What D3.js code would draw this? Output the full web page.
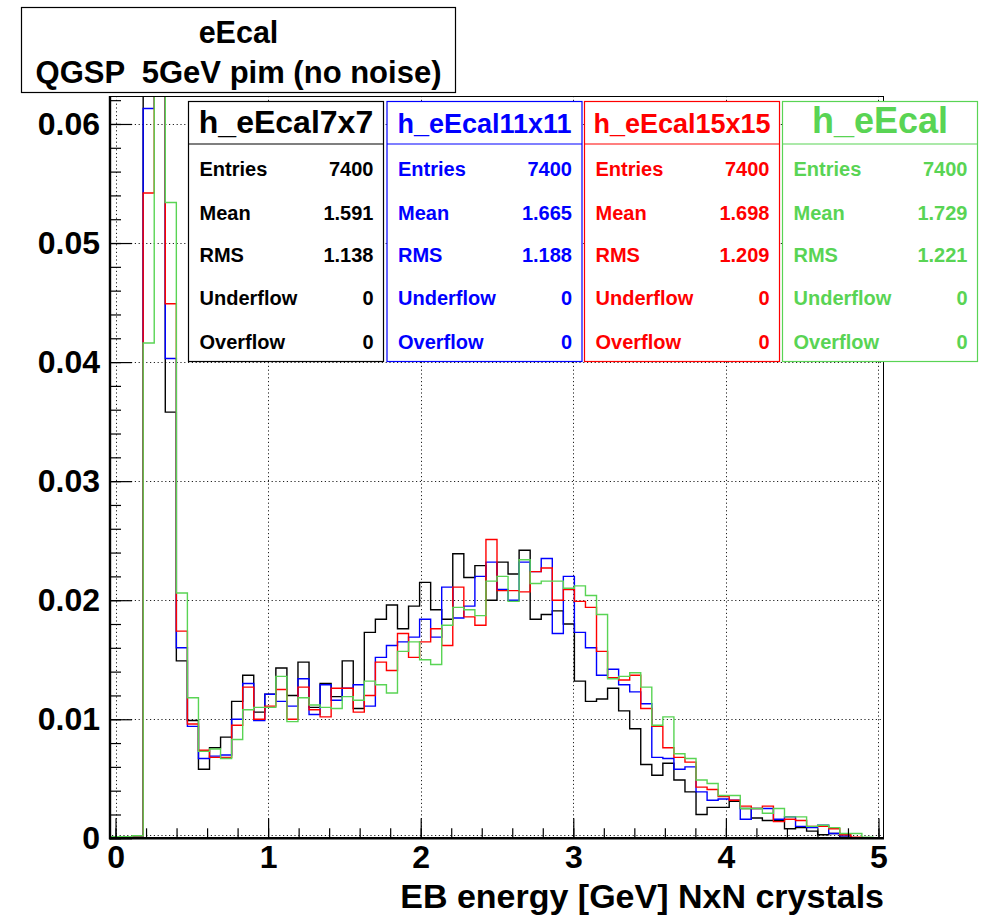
<!DOCTYPE html>
<html>
<head>
<meta charset="utf-8">
<script src="https://cdnjs.cloudflare.com/ajax/libs/d3/7.8.5/d3.min.js"></script>
<style>
  html, body { margin: 0; padding: 0; background: #fff; }
  svg { display: block; }
  text { font-family: "Liberation Sans", Arial, Helvetica, sans-serif; font-weight: bold; }
</style>
</head>
<body>
<svg id="chart" width="989" height="919"></svg>
<script>
// ---------------- data ----------------
const xMin = -0.0362, xMax = 5.0362, nBins = 70;
const yMax = 0.06235;
const xTickValues = [0, 1, 2, 3, 4, 5];
const yTickValues = [0, 0.01, 0.02, 0.03, 0.04, 0.05, 0.06];
const yTickLabels = ["0", "0.01", "0.02", "0.03", "0.04", "0.05", "0.06"];

const h7x7 = [0.0001,0.0001,0.0002,0.0700,0.0800,0.0358,0.0149,0.0099,0.0058,0.0076,
  0.0085,0.0115,0.0137,0.0106,0.0121,0.0143,0.0120,0.0148,0.0110,0.0130,
  0.0119,0.0149,0.0109,0.0173,0.0184,0.0196,0.0176,0.0195,0.0215,0.0192,
  0.0184,0.0239,0.0219,0.0229,0.0200,0.0232,0.0222,0.0242,0.0184,0.0188,
  0.0191,0.0180,0.0132,0.0115,0.0117,0.0126,0.0107,0.0092,0.0062,0.0053,
  0.0063,0.0049,0.0039,0.0020,0.0026,0.0026,0.0031,0.0025,0.0017,0.0015,
  0.0015,0.0008,0.0009,0.0006,0.0003,0.0004,0.0001,0.00005,0.00002,0];
const h11x11 = [0.0001,0.0001,0.0002,0.0613,0.0750,0.0403,0.0160,0.0094,0.0067,0.0069,
  0.0070,0.0100,0.0130,0.0099,0.0121,0.0115,0.0111,0.0134,0.0104,0.0129,
  0.0116,0.0126,0.0129,0.0111,0.0152,0.0162,0.0165,0.0169,0.0184,0.0169,
  0.0211,0.0185,0.0195,0.0220,0.0232,0.0209,0.0200,0.0232,0.0224,0.0235,
  0.0172,0.0220,0.0173,0.0160,0.0137,0.0142,0.0129,0.0123,0.0113,0.0068,
  0.0067,0.0058,0.0060,0.0039,0.0032,0.0033,0.0032,0.0016,0.0025,0.0025,
  0.0016,0.0018,0.0010,0.0009,0.0011,0.0004,0.0002,0.00005,0.00002,0];
const h15x15 = [0.0001,0.0001,0.0002,0.0542,0.0720,0.0449,0.0174,0.0096,0.0074,0.0068,
  0.0068,0.0095,0.0127,0.0100,0.0111,0.0125,0.0100,0.0127,0.0108,0.0102,
  0.0126,0.0126,0.0106,0.0120,0.0148,0.0141,0.0172,0.0152,0.0165,0.0176,
  0.0162,0.0211,0.0186,0.0179,0.0251,0.0208,0.0208,0.0207,0.0224,0.0227,
  0.0200,0.0209,0.0199,0.0194,0.0157,0.0135,0.0133,0.0137,0.0109,0.0094,
  0.0076,0.0068,0.0064,0.0043,0.0041,0.0035,0.0032,0.0027,0.0025,0.0027,
  0.0014,0.0016,0.0015,0.0010,0.0010,0.0008,0.0003,0.0001,0.00002,0];
const hFull = [0.00013,0.00013,0.00022,0.0416,0.0680,0.0534,0.0206,0.0118,0.0073,0.0075,
  0.0067,0.0083,0.0108,0.0110,0.0110,0.0136,0.0098,0.0118,0.0112,0.0110,
  0.0109,0.0119,0.0116,0.0132,0.0129,0.0122,0.0157,0.0165,0.0150,0.0146,
  0.0179,0.0194,0.0192,0.0187,0.0216,0.0220,0.0199,0.0234,0.0214,0.0216,
  0.0216,0.0210,0.0212,0.0204,0.0188,0.0134,0.0136,0.0139,0.0127,0.0095,
  0.0102,0.0071,0.0067,0.0049,0.0046,0.0036,0.0036,0.0025,0.0025,0.0021,
  0.0025,0.0018,0.0018,0.0010,0.0011,0.0009,0.0004,0.0004,0.0001,0.00005];

const seriesNames = ["h_eEcal7x7", "h_eEcal11x11", "h_eEcal15x15", "h_eEcal"];
const seriesValues = [h7x7, h11x11, h15x15, hFull];
const seriesColors = ["#000000", "#0000ff", "#ff0000", "#59d454"];
const statLabels = ["Entries", "Mean", "RMS", "Underflow", "Overflow"];
const statEntries = ["7400", "7400", "7400", "7400"];
const statMeans = ["1.591", "1.665", "1.698", "1.729"];
const statRMS = ["1.138", "1.188", "1.209", "1.221"];
const statUnder = ["0", "0", "0", "0"];
const statOver = ["0", "0", "0", "0"];

const titleLines = ["eEcal", "QGSP  5GeV pim (no noise)"];
const xAxisTitle = "EB energy [GeV] NxN crystals";

// ---------------- layout ----------------
const frame = { left: 110, right: 884, top: 96, bottom: 838.3 };
const svg = d3.select("#chart");

const x = d3.scaleLinear().domain([xMin, xMax]).range([frame.left, frame.right]);
const y = d3.scaleLinear().domain([0, yMax]).range([frame.bottom, frame.top]);

svg.append("rect").attr("x", 0).attr("y", 0).attr("width", 989).attr("height", 919).attr("fill", "#fff");

// grid
const grid = svg.append("g").attr("stroke", "#222").attr("stroke-width", 1).attr("stroke-dasharray", "1.2,2.6");
grid.selectAll("line.gx").data(xTickValues).join("line").attr("class", "gx")
  .attr("x1", d => Math.round(x(d)) + 0.5).attr("x2", d => Math.round(x(d)) + 0.5)
  .attr("y1", frame.top).attr("y2", frame.bottom - 2);
grid.selectAll("line.gy").data(yTickValues).join("line").attr("class", "gy")
  .attr("y1", d => d > 0 ? Math.round(y(d)) + 0.5 : Math.round(y(d)) - 2.5)
  .attr("y2", d => d > 0 ? Math.round(y(d)) + 0.5 : Math.round(y(d)) - 2.5)
  .attr("x1", frame.left + 2).attr("x2", frame.right);

// histograms
svg.append("clipPath").attr("id", "clipFrame").append("rect")
  .attr("x", frame.left).attr("y", frame.top).attr("width", frame.right - frame.left).attr("height", frame.bottom - frame.top);
const binW = (xMax - xMin) / nBins;
const line = d3.line().x(d => x(d[0])).y(d => y(d[1])).curve(d3.curveStepAfter);
const hg = svg.append("g").attr("clip-path", "url(#clipFrame)");
seriesValues.forEach((vals, si) => {
  const pts = vals.map((v, i) => [xMin + i * binW, v]);
  pts.push([xMax, vals[vals.length - 1]]);
  hg.append("path").attr("d", line(pts)).attr("fill", "none")
    .attr("stroke", seriesColors[si]).attr("stroke-width", 1.4);
});

// axes
const minorY = d3.range(0, yMax, 0.002);
const minorX = d3.range(0, 5.0001, 0.2);
const yAxisMinor = d3.axisLeft(y).tickValues(minorY).tickSize(-11).tickFormat("");
const yAxisMajor = d3.axisLeft(y).tickValues(yTickValues).tickSize(-22).tickPadding(10)
  .tickFormat((d, i) => yTickLabels[i]);
const xAxisMinor = d3.axisBottom(x).tickValues(minorX).tickSize(-10).tickFormat("");
const xAxisMajor = d3.axisBottom(x).tickValues(xTickValues).tickSize(-20).tickPadding(7)
  .tickFormat(d3.format("d"));

function styleAxis(g) {
  g.select(".domain").remove();
  g.selectAll(".tick line").attr("stroke", "#000").attr("stroke-width", 1.2);
  g.selectAll("text").attr("fill", "#000").style("font-size", "32px")
    .style("font-family", "'Liberation Sans', Arial, Helvetica, sans-serif").style("font-weight", "bold");
}
svg.append("g").attr("transform", `translate(${frame.left},0)`).call(yAxisMinor).call(styleAxis);
svg.append("g").attr("transform", `translate(${frame.left},0)`).call(yAxisMajor).call(styleAxis);
svg.append("g").attr("transform", `translate(0,${frame.bottom})`).call(xAxisMinor).call(styleAxis);
svg.append("g").attr("transform", `translate(0,${frame.bottom})`).call(xAxisMajor).call(styleAxis);

// frame lines
svg.append("line").attr("x1", frame.left).attr("x2", frame.right).attr("y1", frame.top + 0.5).attr("y2", frame.top + 0.5).attr("stroke", "#000").attr("stroke-width", 1);
svg.append("line").attr("x1", frame.right - 0.5).attr("x2", frame.right - 0.5).attr("y1", frame.top).attr("y2", frame.bottom).attr("stroke", "#000").attr("stroke-width", 1);
svg.append("line").attr("x1", frame.left).attr("x2", frame.left).attr("y1", frame.top).attr("y2", frame.bottom + 1).attr("stroke", "#000").attr("stroke-width", 2.4);
svg.append("line").attr("x1", frame.left - 1).attr("x2", frame.right).attr("y1", frame.bottom).attr("y2", frame.bottom).attr("stroke", "#000").attr("stroke-width", 2.4);

// x axis title
svg.append("text").attr("x", frame.right).attr("y", 908).attr("text-anchor", "end")
  .style("font-size", "34px").attr("fill", "#000").text(xAxisTitle);

// stats boxes
const boxLefts = [188.5, 387, 584.5, 782.5];
const boxW = 195, boxTop = 101.5, boxH = 260, boxDiv = 144;
const titleSizes = [32, 27, 27, 36];
const rowY = [176, 220, 262, 305, 349];
seriesNames.forEach((name, i) => {
  const g = svg.append("g");
  const L = boxLefts[i], col = seriesColors[i];
  g.append("rect").attr("x", L).attr("y", boxTop).attr("width", boxW).attr("height", boxH)
    .attr("fill", "#fff").attr("stroke", col).attr("stroke-width", 1.2);
  g.append("line").attr("x1", L).attr("x2", L + boxW).attr("y1", boxDiv).attr("y2", boxDiv)
    .attr("stroke", col).attr("stroke-width", 1.2);
  g.append("text").attr("x", L + boxW / 2).attr("y", 133).attr("text-anchor", "middle")
    .style("font-size", titleSizes[i] + "px").attr("fill", col).text(name);
  const vals = [statEntries[i], statMeans[i], statRMS[i], statUnder[i], statOver[i]];
  statLabels.forEach((lab, r) => {
    g.append("text").attr("x", L + 11).attr("y", rowY[r]).style("font-size", "20px").attr("fill", col).text(lab);
    g.append("text").attr("x", L + boxW - 10).attr("y", rowY[r]).attr("text-anchor", "end")
      .style("font-size", "20px").attr("fill", col).text(vals[r]);
  });
});

// title box
const tb = svg.append("g");
tb.append("rect").attr("x", 21.5).attr("y", 7.5).attr("width", 434).attr("height", 85)
  .attr("fill", "#fff").attr("stroke", "#000").attr("stroke-width", 1.2);
tb.append("text").attr("x", 238.5).attr("y", 43).attr("text-anchor", "middle")
  .style("font-size", "30.5px").attr("fill", "#000").text(titleLines[0]);
tb.append("text").attr("x", 238.5).attr("y", 83).attr("text-anchor", "middle")
  .style("font-size", "31px").style("white-space", "pre").attr("fill", "#000").text(titleLines[1]);
</script>
</body>
</html>
